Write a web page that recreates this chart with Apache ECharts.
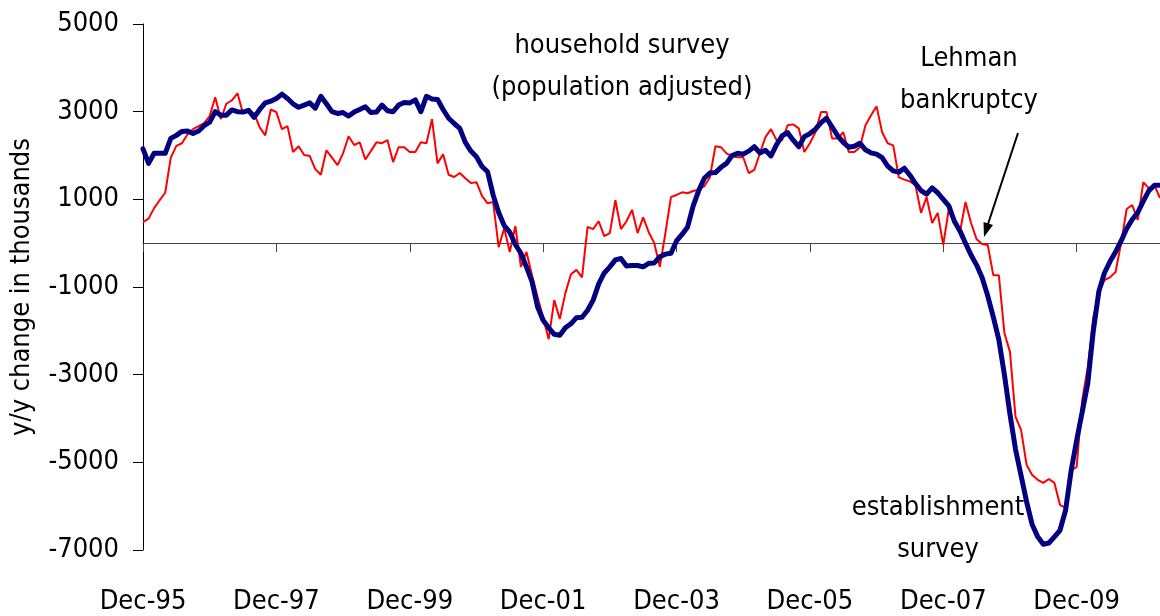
<!DOCTYPE html>
<html style="height: 100%">
   <head>
       <meta charset="utf-8">
   </head>
   <body style="height: 100%; margin: 0; background: #fff">
       <div id="container" style="width: 1160px; height: 616px"></div>
       <script type="text/javascript" src="https://cdn.jsdelivr.net/npm/echarts@6/dist/echarts.min.js"></script>
       <script type="text/javascript">

// months Dec-95 .. Mar-11
var monthNames = ['Jan','Feb','Mar','Apr','May','Jun','Jul','Aug','Sep','Oct','Nov','Dec'];
var months = [];
for (var k = 0; k < 184; k++) {
    var m = (11 + k) % 12;
    var y = 1995 + Math.floor((11 + k) / 12);
    months.push(monthNames[m] + '-' + String(y).slice(2));
}

// y/y change, thousands
var establishment = [
    2150,1820,2050,2050,2050,2390,2460,2550,2560,2500,
    2560,2680,2760,3000,2920,2920,3040,3000,2990,3030,
    2870,3050,3200,3240,3300,3400,3300,3180,3100,3150,
    3200,3080,3350,3180,3000,2960,2980,2900,2990,3050,
    3110,2980,2990,3150,3020,3000,3150,3210,3200,3270,
    3000,3350,3290,3280,3050,2850,2730,2620,2300,2100,
    1970,1750,1630,1100,700,400,250,-30,-230,-540,
    -880,-1450,-1760,-1930,-2080,-2100,-1930,-1840,-1700,-1690,
    -1530,-1300,-930,-680,-540,-380,-350,-520,-510,-510,
    -540,-460,-450,-310,-250,-230,50,200,370,850,
    1200,1480,1600,1610,1730,1820,2000,2050,2030,2100,
    2200,2060,2120,1990,2250,2450,2520,2350,2200,2430,
    2500,2600,2750,2850,2650,2450,2300,2190,2210,2280,
    2130,2060,2030,1950,1760,1650,1620,1710,1550,1360,
    1200,1120,1260,1150,1000,850,500,280,0,-270,
    -500,-790,-1200,-1680,-2200,-3000,-3900,-4700,-5300,-5900,
    -6420,-6700,-6870,-6840,-6700,-6550,-6100,-5200,-4500,-3850,
    -3200,-2000,-1100,-680,-420,-200,50,330,540,700,
    960,1200,1320,1320
];
var household = [
    480,560,800,980,1150,1950,2220,2280,2480,2600,
    2670,2740,2900,3330,2830,3180,3260,3420,2960,3030,
    2960,2640,2460,3050,2990,2600,2670,2080,2210,2010,
    1990,1690,1560,2120,1950,1780,2050,2440,2240,2300,
    1910,2100,2300,2280,2350,1850,2190,2190,2080,2080,
    2300,2280,2830,1820,2030,1560,1510,1600,1480,1370,
    1390,1080,910,940,-90,340,-200,390,-540,-200,
    -730,-1230,-1690,-2190,-1300,-1730,-1140,-710,-610,-780,
    370,320,500,160,230,980,320,500,760,230,
    590,250,0,-540,230,1050,1100,1160,1140,1190,
    1220,1300,1500,2210,2190,2050,1980,1960,1960,1600,
    1670,2050,2420,2600,2350,2350,2690,2710,2620,2080,
    2280,2530,2990,2990,2390,2390,2530,2080,2080,2190,
    2690,2920,3120,2530,2280,2230,1500,1450,1410,1320,
    690,1050,460,690,-40,780,530,250,940,460,
    90,-20,-40,-730,-730,-2050,-2480,-3960,-4260,-5060,
    -5290,-5400,-5470,-5380,-5470,-5970,-6040,-5180,-5110,-3580,
    -2830,-1690,-1140,-840,-780,-660,0,780,870,530,
    1390,1250,1320,1030
];

var font = "'Liberation Sans Narrow', 'Arial Narrow', 'DejaVu Sans Condensed', sans-serif";

function note(txt, x, y) {
    return {
        type: 'text', x: x, y: y,
        style: {
            text: txt, font: "27px " + font, fill: '#000',
            textAlign: 'center', textVerticalAlign: 'middle',
            align: 'center', verticalAlign: 'middle'
        }
    };
}

var dom = document.getElementById("container");
var myChart = echarts.init(dom);
var option = {
    animation: false,
    textStyle: { fontFamily: font, color: '#000' },
    grid: { left: 143, right: 0, top: 24, bottom: 66 },
    xAxis: [{
        type: 'category',
        data: months,
        boundaryGap: false,
        position: 'bottom',
        axisLine: { show: false, onZero: false },
        axisTick: { show: false },
        axisLabel: {
            interval: 23, margin: 38, color: '#000',
            fontFamily: font, fontSize: 27
        }
    }, {
        type: 'category',
        data: months,
        boundaryGap: false,
        position: 'top',
        axisLine: { show: true, onZero: true, lineStyle: { color: '#444', width: 1 } },
        axisTick: { show: true, inside: true, interval: 23, length: 9, lineStyle: { color: '#444' } },
        axisLabel: { show: false }
    }],
    yAxis: {
        type: 'value',
        min: -7000, max: 5000, interval: 2000,
        name: 'y/y change in thousands',
        nameLocation: 'middle',
        nameGap: 108,
        nameTextStyle: { fontFamily: font, fontSize: 27, color: '#000' },
        axisLine: { show: true, lineStyle: { color: '#000', width: 1 } },
        axisTick: { show: true, length: 10, lineStyle: { color: '#000' } },
        axisLabel: {
            margin: 24, color: '#000', fontFamily: font, fontSize: 27,
            formatter: function (v) { return String(v); }
        },
        splitLine: { show: false }
    },
    series: [{
        name: 'household survey (population adjusted)',
        type: 'line',
        data: household,
        showSymbol: false,
        symbol: 'none',
        lineStyle: { color: '#ff0000', width: 2 },
        z: 2
    }, {
        name: 'establishment survey',
        type: 'line',
        data: establishment,
        showSymbol: false,
        symbol: 'none',
        lineStyle: { color: '#000080', width: 5, join: 'round', cap: 'round' },
        z: 3
    }],
    graphic: [
        note('household survey', 622, 46),
        note('(population adjusted)', 622, 88),
        note('Lehman', 969, 59),
        note('bankruptcy', 969, 101),
        note('establishment', 938, 508),
        note('survey', 938, 550),
        { type: 'line', shape: { x1: 1018, y1: 133, x2: 988, y2: 224 }, style: { stroke: '#000', lineWidth: 2 } },
        { type: 'polygon', shape: { points: [[984, 237], [993, 225], [983.5, 222]] }, style: { fill: '#000' } }
    ]
};
myChart.setOption(option);

window.onresize = function() {
    myChart.resize();
};
       </script>
   </body>
</html>
